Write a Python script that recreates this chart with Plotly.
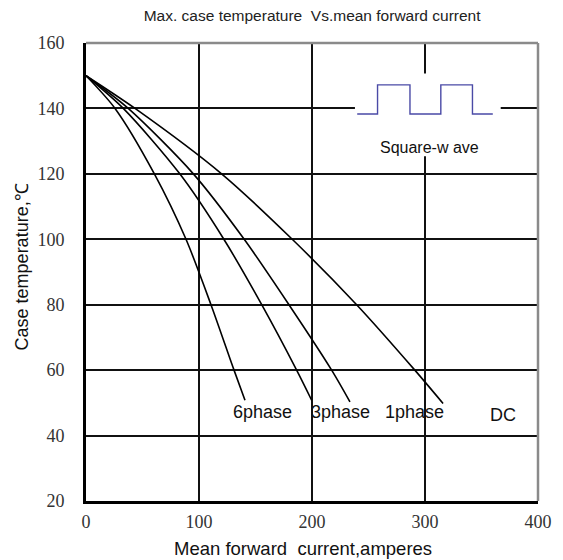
import plotly.graph_objects as go

# ---- data ----
x_6phase = [0, 25.7, 60.5, 88.5, 110.6, 131.0, 140.7]
y_6phase = [150, 140, 120, 100, 80, 60, 50.8]

x_3phase = [0, 33.0, 83.0, 122.0, 155.5, 186.4, 199.7]
y_3phase = [150, 140, 120, 100, 80, 60, 50.8]

x_1phase = [0, 37.4, 95.0, 140.0, 179.6, 217.4, 233.6]
y_1phase = [150, 140, 120, 100, 80, 60, 50.3]

x_dc = [0, 43.4, 120.0, 182.5, 239.5, 291.0, 316.0]
y_dc = [150, 140, 120, 100, 80, 60, 49.8]

curve_labels = ["6phase", "3phase", "1phase", "DC"]

# square-wave icon (schematic)
wave_x = [240, 258, 286.7, 314, 342, 360]
wave_y = [138.3, 147.2, 138.3, 147.2, 138.3, 138.3]
wave_label = "Square-w ave"

x_ticks = [0, 100, 200, 300, 400]
y_ticks = [20, 40, 60, 80, 100, 120, 140, 160]

title_text = "Max. case temperature  Vs.mean forward current"
x_title = "Mean forward  current,amperes"
y_title = "Case temperature,\u2103"

fig = go.Figure()

for xs, ys in [(x_6phase, y_6phase), (x_3phase, y_3phase),
               (x_1phase, y_1phase), (x_dc, y_dc)]:
    fig.add_trace(go.Scatter(x=xs, y=ys, mode="lines",
                             line=dict(color="black", width=1.6, shape="spline", smoothing=0.8),
                             hoverinfo="skip", showlegend=False))

fig.add_trace(go.Scatter(x=wave_x, y=wave_y, mode="lines",
                         line=dict(color="#4a4aa6", width=1.4, shape="hv"),
                         hoverinfo="skip", showlegend=False))

# white box behind the square-wave icon hiding the grid
fig.add_shape(type="rect", x0=238, x1=367, y0=125.4, y1=150.7,
              fillcolor="white", line=dict(width=0), layer="between")

# gray top/right frame
fig.add_shape(type="line", xref="paper", yref="paper", x0=0, x1=1, y0=1, y1=1,
              line=dict(color="#8a8a8a", width=2.5))
fig.add_shape(type="line", xref="paper", yref="paper", x0=1, x1=1, y0=0, y1=1,
              line=dict(color="#8a8a8a", width=2.5))

label_font = dict(family="Liberation Sans, Arial, sans-serif", size=18, color="#111")
label_pos = [(156.5, 47.3), (225.4, 47.3), (291.0, 47.3), (369.0, 46.2)]
for txt, (lx, ly) in zip(curve_labels, label_pos):
    fig.add_annotation(x=lx, y=ly, text=txt, showarrow=False, font=label_font,
                       xanchor="center", yanchor="middle")

fig.add_annotation(x=304, y=128.2, text=wave_label, showarrow=False,
                   font=dict(family="Liberation Sans, Arial, sans-serif", size=16, color="#111"),
                   xanchor="center", yanchor="middle")

axis_title_font = dict(family="Liberation Sans, Arial, sans-serif", size=18.5, color="#111")
fig.add_annotation(x=0.48, y=0, xref="paper", yref="paper", yshift=-47,
                   text=x_title, showarrow=False, font=axis_title_font,
                   xanchor="center", yanchor="middle")
fig.add_annotation(x=0, y=0.51, xref="paper", yref="paper", xshift=-64,
                   text=y_title, showarrow=False, font=dict(axis_title_font, size=18),
                   textangle=-90, xanchor="center", yanchor="middle")

tick_font = dict(family="Liberation Serif, Times New Roman, serif", size=18, color="#333")

fig.update_layout(
    width=555, height=552,
    margin=dict(l=78, r=25, t=35, b=59),
    paper_bgcolor="white", plot_bgcolor="white",
    title=dict(text=title_text, x=0.548, xanchor="center", y=0.9855, yanchor="middle",
               font=dict(family="Liberation Sans, Arial, sans-serif", size=15.5, color="#222")),
    xaxis=dict(range=[0, 400], tickvals=x_ticks, ticktext=[str(v) for v in x_ticks],
               showgrid=True, gridcolor="#111", gridwidth=1.5,
               showline=True, linecolor="black", linewidth=3,
               zeroline=False, ticks="outside", ticklen=2, tickcolor="rgba(0,0,0,0)",
               tickfont=tick_font),
    yaxis=dict(range=[20, 160], tickvals=y_ticks, ticktext=[str(v) for v in y_ticks],
               showgrid=True, gridcolor="#111", gridwidth=1.5,
               showline=True, linecolor="black", linewidth=3,
               zeroline=False, ticks="outside", ticklen=15, tickcolor="rgba(0,0,0,0)",
               tickfont=tick_font),
)

fig.write_html("out.html")
